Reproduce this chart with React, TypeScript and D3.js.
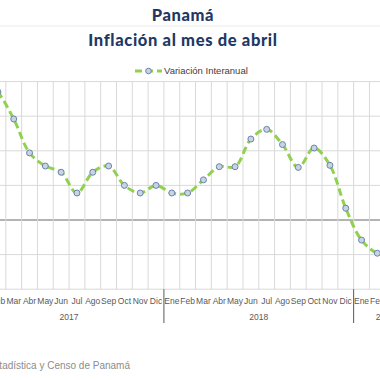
import React from "react";
import * as d3 from "d3";

const months = ["Ene", "Feb", "Mar", "Abr", "May", "Jun", "Jul", "Ago", "Sep", "Oct", "Nov", "Dic"];
const years = ["2017", "2018", "2019"];
// Variación interanual (%) Ene 2017 .. Abr 2019
const values = [
  2.1, 1.85, 1.46, 0.97, 0.78, 0.69, 0.39, 0.69, 0.78, 0.5, 0.39, 0.5,
  0.39, 0.39, 0.58, 0.77, 0.77, 1.17, 1.31, 1.09, 0.76, 1.04, 0.79, 0.17,
  -0.29, -0.48, -0.5, -0.4,
];
const yTicks = [-1, -0.5, 0, 0.5, 1, 1.5, 2];
const title1 = "Panamá";
const title2 = "Inflación al mes de abril";
const legendLabel = "Variación Interanual";
const source = "Fuente: Instituto Nacional de Estadística y Censo de Panamá";

export default function App() {
  const W = 380, H = 380;
  const plotTop = 81.6, plotBottom = 289.2, plotLeft = 0, plotRight = 380;
  const cats = values.map((_, i) => i);
  const x = d3.scaleBand<number>().domain(cats).range([-25.8, -25.8 + 15.81 * values.length]);
  const cx = (i: number) => (x(i) as number) + x.bandwidth() / 2;
  const y = d3.scaleLinear().domain([-1, 2]).range([plotBottom, plotTop]);
  const line = d3.line<number>().x((_, i) => cx(i)).y((d) => y(d)).curve(d3.curveCatmullRom.alpha(0.5));
  const pathD = line(values) || "";
  const labelFont = "'Liberation Sans', Arial, sans-serif";
  const yearSeps = years.map((_, k) => x(k * 12) as number);
  const yearCenter = (k: number) => {
    const first = k * 12;
    const last = Math.min(k * 12 + 11, values.length - 1);
    return (cx(first) + cx(last)) / 2;
  };

  return (
    <svg width={W} height={H} style={{ position: "absolute", left: 0, top: 0, background: "#fff" }}>
      <defs>
        <clipPath id="plot">
          <rect x={plotLeft} y={plotTop} width={plotRight - plotLeft} height={plotBottom - plotTop} />
        </clipPath>
      </defs>
      <rect x={0} y={0} width={W} height={H} fill="#fff" />
      {/* titles */}
      <text x={183} y={17} textAnchor="middle" dominantBaseline="middle" fontFamily="Lato, sans-serif" fontWeight={900} fontSize={16.5} letterSpacing={0.6} fill="#1F3864">{title1}</text>
      <line x1={0} x2={W} y1={26} y2={26} stroke="#ececec" strokeWidth={1} />
      <text x={183} y={41.5} textAnchor="middle" dominantBaseline="middle" fontFamily="Lato, sans-serif" fontWeight={900} fontSize={16.5} letterSpacing={0.65} fill="#1F3864">{title2}</text>
      {/* legend */}
      <line x1={135} x2={162} y1={71} y2={71} stroke="#92D050" strokeWidth={3} strokeDasharray="7,4" />
      <circle cx={148.5} cy={71} r={2.8} fill="#CAD3E2" stroke="#6A84AD" strokeWidth={1} />
      <text x={164} y={71} dominantBaseline="middle" fontFamily={labelFont} fontSize={9.5} fill="#404040">{legendLabel}</text>
      {/* gridlines */}
      {yTicks.map((t) => (
        <line key={"h" + t} x1={plotLeft} x2={plotRight} y1={y(t)} y2={y(t)} stroke={t === 0 ? "#9a9a9a" : "#d9d9d9"} strokeWidth={t === 0 ? 1.5 : 1} />
      ))}
      {cats.map((i) => (
        <line key={"v" + i} x1={x(i) as number} x2={x(i) as number} y1={plotTop} y2={plotBottom} stroke="#d9d9d9" strokeWidth={1} />
      ))}
      {/* year separators */}
      {yearSeps.map((sx, k) => (
        <line key={"ys" + k} x1={sx} x2={sx} y1={plotBottom} y2={323} stroke="#595959" strokeWidth={1} />
      ))}
      {/* series */}
      <g clipPath="url(#plot)">
        <path d={pathD} fill="none" stroke="#92D050" strokeWidth={3} strokeDasharray="7.5,4" />
        {values.map((v, i) => (
          <circle key={"p" + i} cx={cx(i)} cy={y(v)} r={3} fill="#CAD3E2" stroke="#6A84AD" strokeWidth={1} />
        ))}
      </g>
      {/* month labels */}
      {cats.map((i) => (
        <text key={"m" + i} x={cx(i)} y={302} textAnchor="middle" dominantBaseline="middle" fontFamily={labelFont} fontSize={8.5} fill="#595959">{months[i % 12]}</text>
      ))}
      {years.map((yr, k) => (
        <text key={"y" + yr} x={yearCenter(k)} y={318} textAnchor="middle" dominantBaseline="middle" fontFamily={labelFont} fontSize={8.5} fill="#595959">{yr}</text>
      ))}
      {/* source */}
      <text x={130} y={366} textAnchor="end" dominantBaseline="middle" fontFamily={labelFont} fontSize={10} fill="#8c8c8c">{source}</text>
    </svg>
  );
}
